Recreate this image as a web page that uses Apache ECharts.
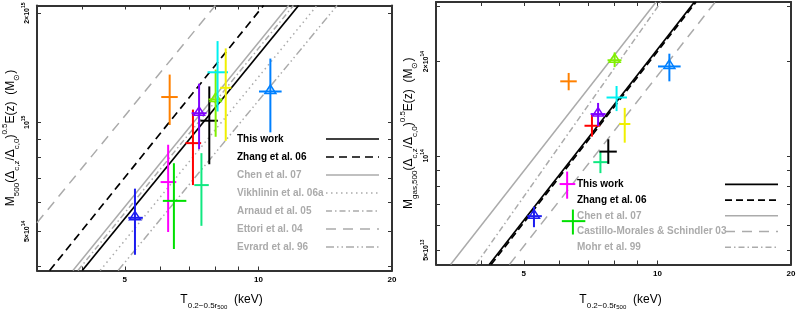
<!DOCTYPE html>
<html><head><meta charset="utf-8">
<script src="https://cdn.jsdelivr.net/npm/echarts@6/dist/echarts.min.js"></script>
<style>html,body{margin:0;padding:0;background:#fff}#c{width:796px;height:315px}</style>
</head><body><div id="c"></div>
<script>
// ---------------- data ----------------
const clusterColors = ['#1c1cf0','#ff00ff','#00e000','#ff8000','#ff0000','#10e880','#8000ff','#000000','#80f000','#00f0f0','#f0f000','#0080ff'];
const clusterTriangle = [true,false,false,false,false,false,true,false,true,false,false,true];
const tempT  = [5.27,6.26,6.45,6.31,7.12,7.44,7.35,7.75,8.01,8.09,8.44,10.64];
const tempLo = [5.09,6.02,6.09,6.04,6.85,7.17,7.07,7.40,7.72,7.68,8.20,10.03];
const tempHi = [5.49,6.53,6.88,6.58,7.43,7.73,7.64,8.10,8.30,8.54,8.69,11.28];
const mTot   = [5.45e14,6.84e14,6.07e14,1.174e15,8.76e14,6.71e14,1.059e15,1.010e15,1.156e15,1.374e15,1.245e15,1.216e15];
const mTotLo = [4.31e14,4.98e14,4.47e14,9.83e14,6.71e14,5.18e14,8.43e14,7.66e14,9.12e14,1.071e15,8.89e14,9.38e14];
const mTotHi = [6.56e14,8.67e14,7.71e14,1.354e15,1.084e15,8.22e14,1.278e15,1.256e15,1.398e15,1.675e15,1.599e15,1.499e15];
const mGas   = [6.42e13,8.13e13,6.19e13,1.73e14,1.248e14,9.55e13,1.36e14,1.032e14,2.02e14,1.536e14,1.264e14,1.93e14];
const mGasLo = [5.92e13,7.30e13,5.61e13,1.62e14,1.152e14,8.81e13,1.245e14,9.43e13,1.92e14,1.39e14,1.102e14,1.73e14];
const mGasHi = [6.88e13,8.91e13,6.74e13,1.84e14,1.35e14,1.032e14,1.476e14,1.13e14,2.14e14,1.672e14,1.423e14,2.12e14];

// scaling relations (endpoints)
const totRelNames = ['This work','Zhang et al. 06','Chen et al. 07','Vikhlinin et al. 06a','Arnaud et al. 05','Ettori et al. 04','Evrard et al. 96'];
const totRelT = [[4.01,12.32],[3.385,10.27],[3.82,11.70],[4.40,13.55],[3.92,11.99],[3.17,8.0],[4.83,15.04]];
const totRelM = [[3.9e14,2.1e15],[3.9e14,2.1e15],[3.9e14,2.1e15],[3.9e14,2.1e15],[3.9e14,2.1e15],[5.28e14,2.1e15],[3.9e14,2.1e15]];
const gasRelNames = ['This work','Zhang et al. 06','Chen et al. 07','Castillo-Morales & Schindler 03','Mohr et al. 99'];
const gasRelT = [[4.18,12.12],[4.22,12.22],[3.42,9.93],[4.64,13.5],[3.90,10.19]];
const gasRelM = [[4.5e13,3.1e14],[4.5e13,3.1e14],[4.5e13,3.1e14],[4.5e13,3.1e14],[4.5e13,3.1e14]];

// axes ticks
const xRange = [3.17, 20];
const xTicks = [5, 10, 20];
const xTickLabels = ['5', '10', '20'];
const xMinorTicks = [4, 6, 7, 8, 9];
const totRange = [3.9e14, 2.1e15];
const totTicks = [5e14, 1e15, 2e15];
const totTickLabels = [['5×10','14'], ['10','15'], ['2×10','15']];
const totMinorTicks = [4e14, 6e14, 7e14, 8e14, 9e14];
const gasRange = [4.5e13, 3.1e14];
const gasTicks = [5e13, 1e14, 2e14];
const gasTickLabels = [['5×10','13'], ['10','14'], ['2×10','14']];
const gasMinorTicks = [6e13, 7e13, 8e13, 9e13, 3e14];

// ---------------- styles ----------------
const FONT = "'Liberation Sans', Arial, Helvetica, sans-serif";
const GRAY = '#ababab';
const AX = '#333';
const totRelStyle = [
  {c:'#000', w:1.7, d:'solid', tc:'#000'},
  {c:'#000', w:1.7, d:[8,5], tc:'#000'},
  {c:GRAY, w:1.5, d:'solid', tc:GRAY},
  {c:GRAY, w:1.5, d:[1.5,3.5], tc:GRAY},
  {c:GRAY, w:1.5, d:[6,3,1.5,3], tc:GRAY},
  {c:GRAY, w:1.5, d:[10,7], tc:GRAY},
  {c:GRAY, w:1.5, d:[8,3,1.5,3,1.5,3], tc:GRAY}
];
const gasRelStyle = [
  {c:'#000', w:1.7, d:'solid', tc:'#000'},
  {c:'#000', w:1.7, d:[7,4], tc:'#000'},
  {c:GRAY, w:1.5, d:'solid', tc:GRAY},
  {c:GRAY, w:1.5, d:[10,7], tc:GRAY},
  {c:GRAY, w:1.5, d:[6,3,1.5,3], tc:GRAY}
];

function nearestIdx(v, arr) {
  let k = 0, best = Infinity;
  arr.forEach((t, i) => { const d = Math.abs(Math.log10(v / t)); if (d < best) { best = d; k = i; } });
  return k;
}
const yLabelRich = {
  b: {fontSize: 7, fontWeight: 'bold', fontFamily: FONT, color: '#000', lineHeight: 12},
  e: {fontSize: 5, fontWeight: 'bold', fontFamily: FONT, color: '#000', lineHeight: 6, verticalAlign: 'top'}
};
const nameRich = {
  m: {fontSize: 12, fontFamily: FONT, color: '#000', lineHeight: 20},
  s: {fontSize: 8, fontFamily: FONT, color: '#000', lineHeight: 10, verticalAlign: 'bottom'},
  ss: {fontSize: 6, fontFamily: FONT, color: '#000', lineHeight: 5, verticalAlign: 'bottom'},
  u: {fontSize: 8, fontFamily: FONT, color: '#000', lineHeight: 10, verticalAlign: 'top'}
};

function makeX(gridIndex, position, main, nameGap) {
  return {
    type: 'log', gridIndex, position, min: xRange[0], max: xRange[1],
    splitLine: {show: false},
    axisLine: {show: true, lineStyle: {color: AX, width: 2}},
    axisTick: {show: true, inside: true, length: 4, lineStyle: {color: AX, width: 1},
      customValues: xTicks.concat(xMinorTicks)},
    axisLabel: main ? {show: true, customValues: xTicks, margin: 5, fontSize: 8, fontWeight: 'bold',
      fontFamily: FONT, color: '#000', formatter: v => xTickLabels[nearestIdx(v, xTicks)]} : {show: false},
    name: main ? '{m|T}{s|0.2−0.5r}{ss|500}{m|  (keV)}' : '',
    nameLocation: 'middle', nameGap: nameGap, nameMoveOverlap: false,
    nameTextStyle: {rich: nameRich, padding: [0, 0, 0, 14]}
  };
}
function makeY(gridIndex, position, main, range, ticks, labels, minor, nameStr, nameGap) {
  return {
    type: 'log', gridIndex, position, min: range[0], max: range[1],
    splitLine: {show: false},
    axisLine: {show: true, lineStyle: {color: AX, width: 2}},
    axisTick: {show: true, inside: true, length: 4, lineStyle: {color: AX, width: 1},
      customValues: ticks.concat(minor)},
    axisLabel: main ? {show: true, customValues: ticks, rotate: 90, margin: 4, rich: yLabelRich,
      formatter: v => { const L = labels[nearestIdx(v, ticks)]; return '{b|' + L[0] + '}{e|' + L[1] + '}'; }} : {show: false},
    name: main ? nameStr : '',
    nameLocation: 'middle', nameGap: nameGap, nameMoveOverlap: false,
    nameTextStyle: {rich: nameRich}
  };
}

function crossRenderer(colors, tri) {
  return function (params, api) {
    const i = params.dataIndex;
    const c = api.coord([api.value(0), api.value(3)]);
    const l = api.coord([api.value(1), api.value(3)]);
    const r = api.coord([api.value(2), api.value(3)]);
    const b = api.coord([api.value(0), api.value(4)]);
    const t = api.coord([api.value(0), api.value(5)]);
    const st = {stroke: colors[i], lineWidth: 2, fill: null};
    const children = [
      {type: 'line', shape: {x1: l[0], y1: l[1], x2: r[0], y2: r[1]}, style: st},
      {type: 'line', shape: {x1: b[0], y1: b[1], x2: t[0], y2: t[1]}, style: st}
    ];
    if (tri[i]) {
      children.push({type: 'polygon', shape: {points: [[c[0] - 5.5, c[1] + 2], [c[0] + 5.5, c[1] + 2], [c[0], c[1] - 6.5]]},
        style: {stroke: colors[i], fill: 'none', lineWidth: 1.5}});
    }
    return {type: 'group', children};
  };
}

function relSeries(names, Ts, Ms, styles, xi, yi) {
  return names.map((n, k) => ({
    type: 'line', name: n, xAxisIndex: xi, yAxisIndex: yi, symbol: 'none', silent: true, clip: true,
    data: [[Ts[k][0], Ms[k][0]], [Ts[k][1], Ms[k][1]]],
    lineStyle: {color: styles[k].c, width: styles[k].w, type: styles[k].d, cap: 'butt'},
    z: 2
  }));
}

function legendGraphics(names, styles, textX, lineX0, lineX1, y0, dy) {
  const out = [];
  names.forEach((n, k) => {
    const y = y0 + k * dy;
    out.push({type: 'text', x: textX, y: y, z: 100,
      style: {text: n, fill: styles[k].tc, font: 'bold 10px ' + FONT, verticalAlign: 'middle', textVerticalAlign: 'middle'}});
    out.push({type: 'line', z: 100, shape: {x1: lineX0, y1: y, x2: lineX1, y2: y},
      style: {stroke: styles[k].c, lineWidth: styles[k].w, lineDash: Array.isArray(styles[k].d) ? styles[k].d : null}});
  });
  return out;
}

const totData = tempT.map((t, i) => [t, tempLo[i], tempHi[i], mTot[i], mTotLo[i], mTotHi[i]]);
const gasData = tempT.map((t, i) => [t, tempLo[i], tempHi[i], mGas[i], mGasLo[i], mGasHi[i]]);

const totName = '{m|M}{s|500}{m|(Δ}{s|c,z}{m|/Δ}{s|c,0}{m|)}{u|0.5}{m|E(z)  (M}{s|⊙}{m|)}';
const gasName = '{m|M}{s|gas,500}{m|(Δ}{s|c,z}{m|/Δ}{s|c,0}{m|)}{u|0.5}{m|E(z)  (M}{s|⊙}{m|)}';

const option = {
  animation: false,
  backgroundColor: '#fff',
  grid: [
    {left: 37, top: 5.5, width: 355, height: 265, outerBoundsMode: 'none', containLabel: false},
    {left: 436, top: 2, width: 355, height: 262.5, outerBoundsMode: 'none', containLabel: false}
  ],
  xAxis: [
    makeX(0, 'bottom', true, 19.5),
    makeX(0, 'top', false, 0),
    makeX(1, 'bottom', true, 25.5),
    makeX(1, 'top', false, 0)
  ],
  yAxis: [
    makeY(0, 'left', true, totRange, totTicks, totTickLabels, totMinorTicks, totName, 16),
    makeY(0, 'right', false, totRange, totTicks, totTickLabels, totMinorTicks, '', 0),
    makeY(1, 'left', true, gasRange, gasTicks, gasTickLabels, gasMinorTicks, gasName, 17),
    makeY(1, 'right', false, gasRange, gasTicks, gasTickLabels, gasMinorTicks, '', 0)
  ],
  series: [].concat(
    relSeries(totRelNames, totRelT, totRelM, totRelStyle, 0, 0),
    relSeries(gasRelNames, gasRelT, gasRelM, gasRelStyle, 2, 2),
    [
      {type: 'custom', xAxisIndex: 0, yAxisIndex: 0, data: totData, encode: {x: [0, 1, 2], y: [3, 4, 5]},
        renderItem: crossRenderer(clusterColors, clusterTriangle), z: 5, silent: true},
      {type: 'custom', xAxisIndex: 2, yAxisIndex: 2, data: gasData, encode: {x: [0, 1, 2], y: [3, 4, 5]},
        renderItem: crossRenderer(clusterColors, clusterTriangle), z: 5, silent: true}
    ]
  ),
  graphic: [].concat(
    legendGraphics(totRelNames, totRelStyle, 237, 326, 379, 139, 18),
    legendGraphics(gasRelNames, gasRelStyle, 577, 725, 778, 184.3, 15.75)
  )
};

const chart = echarts.init(document.getElementById('c'), null, {renderer: 'canvas'});
chart.setOption(option);
</script>
</body></html>
